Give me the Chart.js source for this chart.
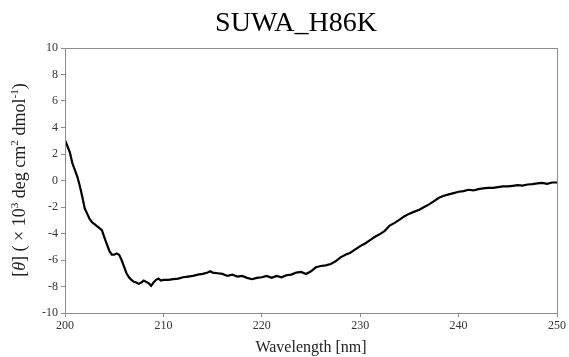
<!DOCTYPE html>
<html><head><meta charset="utf-8">
<script src="https://cdn.jsdelivr.net/npm/chart.js@4"></script>
<style>html,body{margin:0;padding:0;background:#fff}#wrap{width:569px;height:357px}</style>
</head><body><div id="wrap"><canvas id="c" width="569" height="357"></canvas></div>
<script>
const chartTitle = "SUWA_H86K";
const xTitle = "Wavelength [nm]";
// y-axis title pieces: [text, style] where style: n=normal, i=italic, s=superscript
const yTitleParts = [["[", "n"], ["θ", "i"], ["] ( × 10", "n"], ["3", "s"], [" deg cm", "n"], ["2", "s"], [" dmol", "n"], ["-1", "s"], [")", "n"]];
const wavelength = [200.0,200.25,200.5,200.75,201.0,201.25,201.5,201.75,202.0,202.25,202.5,202.75,203.0,203.25,203.5,203.75,204.0,204.25,204.5,204.75,205.0,205.25,205.5,205.75,206.0,206.25,206.5,206.75,207.0,207.25,207.5,207.75,208.0,208.25,208.5,208.75,209.0,209.25,209.5,209.75,210.0,210.5,211.0,211.5,212.0,212.5,213.0,213.5,214.0,214.5,214.75,215.0,215.5,216.0,216.5,217.0,217.5,218.0,218.5,219.0,219.5,220.0,220.5,221.0,221.5,222.0,222.5,223.0,223.5,224.0,224.5,225.0,225.5,226.0,226.5,227.0,227.5,228.0,228.5,229.0,229.5,230.0,230.5,231.0,231.5,232.0,232.5,233.0,233.5,234.0,234.5,235.0,235.5,236.0,236.5,237.0,237.5,238.0,238.5,239.0,239.5,240.0,240.5,241.0,241.5,242.0,242.5,243.0,243.5,244.0,244.5,245.0,245.5,246.0,246.5,247.0,247.5,248.0,248.5,249.0,249.5,250.0];
const ellipticity = [3.05,2.6,2.1,1.3,0.8,0.3,-0.4,-1.2,-2.1,-2.5,-2.9,-3.15,-3.3,-3.45,-3.6,-3.75,-4.3,-4.8,-5.3,-5.6,-5.6,-5.5,-5.6,-6.0,-6.5,-7.0,-7.3,-7.5,-7.65,-7.7,-7.8,-7.7,-7.55,-7.65,-7.75,-7.95,-7.7,-7.5,-7.4,-7.55,-7.5,-7.5,-7.45,-7.4,-7.3,-7.25,-7.2,-7.1,-7.05,-6.95,-6.85,-6.95,-7.0,-7.05,-7.2,-7.1,-7.25,-7.2,-7.35,-7.45,-7.35,-7.3,-7.2,-7.35,-7.2,-7.3,-7.15,-7.1,-6.95,-6.9,-7.05,-6.85,-6.55,-6.45,-6.4,-6.3,-6.1,-5.8,-5.6,-5.45,-5.2,-4.95,-4.75,-4.5,-4.25,-4.05,-3.8,-3.4,-3.2,-2.95,-2.7,-2.5,-2.35,-2.2,-2.0,-1.8,-1.55,-1.3,-1.15,-1.05,-0.95,-0.85,-0.8,-0.7,-0.75,-0.65,-0.6,-0.55,-0.55,-0.5,-0.45,-0.45,-0.4,-0.35,-0.38,-0.3,-0.28,-0.22,-0.18,-0.25,-0.15,-0.15];

const serif = "'Liberation Serif','Times New Roman',serif";

const boxPlugin = {
  id: 'boxPlugin',
  afterDraw(chart) {
    const ctx = chart.ctx, a = chart.chartArea;
    ctx.save();
    ctx.strokeStyle = '#8c8c8c';
    ctx.lineWidth = 1;
    ctx.strokeRect(Math.round(a.left) + 0.5, Math.round(a.top) + 0.5, Math.round(a.right - a.left), Math.round(a.bottom - a.top));
    // chart title
    ctx.fillStyle = '#000';
    ctx.font = "28px " + serif;
    ctx.textAlign = 'center';
    ctx.textBaseline = 'alphabetic';
    ctx.fillText(chartTitle, 296, 31);
    // y-axis title with italic theta and superscripts
    const size = 18;
    const fontFor = st => st === 'i' ? ("italic " + size + "px " + serif) : st === 's' ? ((size * 0.62).toFixed(1) + "px " + serif) : (size + "px " + serif);
    let total = 0;
    for (const [t, st] of yTitleParts) { ctx.font = fontFor(st); total += ctx.measureText(t).width; }
    ctx.translate(25, 180);
    ctx.rotate(-Math.PI / 2);
    ctx.textAlign = 'left';
    ctx.fillStyle = '#222';
    let x = -total / 2;
    for (const [t, st] of yTitleParts) {
      ctx.font = fontFor(st);
      ctx.fillText(t, x, st === 's' ? -size * 0.38 : 0);
      x += ctx.measureText(t).width;
    }
    ctx.restore();
  }
};

new Chart(document.getElementById('c'), {
  type: 'line',
  data: {
    datasets: [{
      data: wavelength.map((w, i) => ({x: w, y: ellipticity[i]})),
      borderColor: '#000',
      borderWidth: 2.2,
      pointRadius: 0,
      tension: 0,
      fill: false
    }]
  },
  options: {
    responsive: false,
    animation: false,
    layout: {padding: {top: 48, right: 12, left: 0, bottom: 0}},
    plugins: {legend: {display: false}, tooltip: {enabled: false}},
    scales: {
      x: {
        type: 'linear', min: 200, max: 250,
        afterFit(s) { s.height = 44; },
        ticks: {stepSize: 10, color: '#333', font: {family: serif, size: 12}, padding: 2, maxRotation: 0},
        grid: {drawOnChartArea: false, color: '#8c8c8c', tickLength: 4},
        border: {color: '#8c8c8c'},
        title: {display: true, text: xTitle, color: '#222', font: {family: serif, size: 16}, padding: {top: 0, bottom: 0}}
      },
      y: {
        min: -10, max: 10,
        afterFit(s) { s.width = 65; },
        ticks: {stepSize: 2, color: '#333', font: {family: serif, size: 12}, padding: 3},
        grid: {drawOnChartArea: false, color: '#8c8c8c', tickLength: 4},
        border: {color: '#8c8c8c'}
      }
    }
  },
  plugins: [boxPlugin]
});
</script></body></html>
